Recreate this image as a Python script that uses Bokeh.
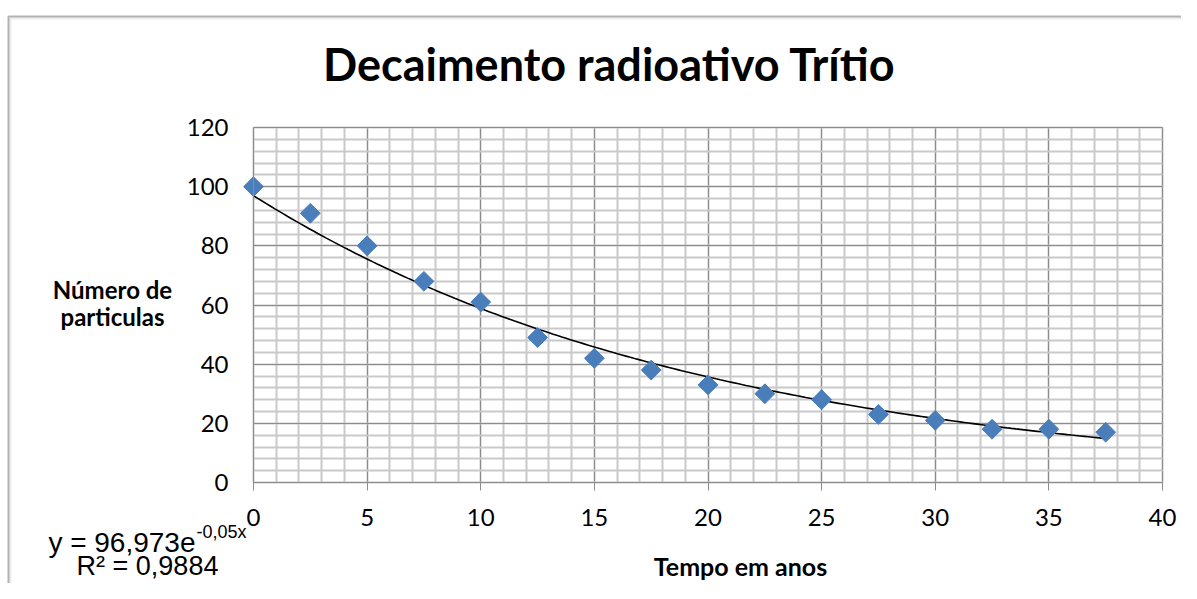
import numpy as np
from bokeh.plotting import figure
from bokeh.models import Range1d, FixedTicker, Label, BoxAnnotation
from bokeh.embed import file_html
from bokeh.resources import INLINE

# ---- data ----
tempo_anos = [0, 2.5, 5, 7.5, 10, 12.5, 15, 17.5, 20, 22.5, 25, 27.5, 30, 32.5, 35, 37.5]
particulas = [100, 91, 80, 68, 61, 49, 42, 38, 33, 30, 28, 23, 21, 18, 18, 17]
x_ticks = [0, 5, 10, 15, 20, 25, 30, 35, 40]
y_ticks = [0, 20, 40, 60, 80, 100, 120]
fit_a = 96.973
fit_b = -0.05
title_text = "Decaimento radioativo Trítio"
ylabel_lines = ["Número de", "particulas"]
xlabel_text = "Tempo em anos"
eq_main = "y = 96,973e"
eq_sup = "-0,05x"
r2_text = "R² = 0,9884"

# ---- layout constants (pixels) ----
FONT = "Lato"
GRID_MAJOR = "#8c8c8c"
GRID_MINOR = "#c9c9c9"
W, H = 1181, 583
X0, X1 = 0, 40
Y0, Y1 = 0, 120
PL, PR, PT, PB = 253, 1162, 127, 482   # plot-area edges on the canvas

kx = (PR - PL) / (X1 - X0)
ky = (PB - PT) / (Y1 - Y0)


def px2x(px):
    return X0 + (px - PL) / kx


def py2y(py):
    return Y0 + (PB - py) / ky


p = figure(width=W, height=H, output_backend="svg", toolbar_location=None,
           x_range=Range1d(px2x(0), px2x(W)), y_range=Range1d(py2y(H), py2y(0)),
           min_border_left=0, min_border_right=0, min_border_top=0, min_border_bottom=0)
p.title.text = ""
p.title.visible = False
p.background_fill_color = "white"
p.border_fill_color = "white"
p.outline_line_color = None

p.xaxis.ticker = FixedTicker(ticks=x_ticks, minor_ticks=list(range(X0, X1 + 1)))
p.yaxis.ticker = FixedTicker(ticks=y_ticks, minor_ticks=list(range(Y0, Y1 + 1, 4)))
p.xaxis.fixed_location = Y0
p.yaxis.fixed_location = X0
p.xaxis.bounds = (X0, X1)
p.yaxis.bounds = (Y0, Y1)

for ax in (p.xaxis, p.yaxis):
    ax.axis_line_color = GRID_MAJOR
    ax.major_tick_line_color = GRID_MAJOR
    ax.minor_tick_out = 0
    ax.minor_tick_in = 0
    ax.major_tick_in = 0
    ax.major_label_text_font = FONT
    ax.major_label_text_font_size = "24px"
    ax.major_label_text_color = "black"
p.xaxis.major_tick_out = 8
p.xaxis.major_label_standoff = 18
p.yaxis.major_tick_out = 0
p.yaxis.major_label_standoff = 25

p.xgrid.bounds = (X0, X1)
p.ygrid.bounds = (Y0, Y1)
p.xgrid.cross_bounds = (Y0, Y1)
p.ygrid.cross_bounds = (X0, X1)
for g in (p.xgrid, p.ygrid):
    g.grid_line_color = GRID_MAJOR
    g.grid_line_width = 1
    g.minor_grid_line_color = GRID_MINOR
    g.minor_grid_line_width = 2
    g.level = "underlay"

# exponential trendline from the fitted coefficients
x_fit = np.linspace(tempo_anos[0], tempo_anos[-1], 200)
y_fit = fit_a * np.exp(fit_b * x_fit)
p.line(x_fit, y_fit, line_color="black", line_width=1.6)

# diamond markers
p.scatter(tempo_anos, particulas, marker="square", size=14, angle=np.pi / 4,
          fill_color="#4a7ebb", line_color="#4a7ebb")


def lab(px, py, text, align="center", size=24, font=FONT, bold=True):
    # py is the desired baseline; Bokeh's baseline sits ~0.37 em lower than requested
    p.add_layout(Label(x=px2x(px), y=py2y(py - 0.37 * size), text=text, text_align=align,
                       text_baseline="alphabetic", text_font=font,
                       text_font_style="bold" if bold else "normal",
                       text_font_size=f"{size}px", text_color="black"))


lab(609, 80, title_text, size=45)
lab(112, 298, ylabel_lines[0])
lab(112, 325, ylabel_lines[1])
lab(740, 575, xlabel_text, size=25)
lab(195, 552, eq_main, align="right", size=28, font="Liberation Sans", bold=False)
lab(196, 538, eq_sup, align="left", size=18, font="Liberation Sans", bold=False)
lab(147, 575, r2_text, size=27, font="Liberation Sans", bold=False)

# chart border: black line with a light grey inner line
p.add_layout(BoxAnnotation(left=px2x(10), right=px2x(W + 20), top=py2y(18), bottom=py2y(H + 20),
                           fill_alpha=0, line_color="#c4c4c4", line_width=2))
p.add_layout(BoxAnnotation(left=px2x(8), right=px2x(W + 20), top=py2y(16), bottom=py2y(H + 20),
                           fill_alpha=0, line_color="black", line_width=2))

open("out.html", "w").write(file_html(p, INLINE))
